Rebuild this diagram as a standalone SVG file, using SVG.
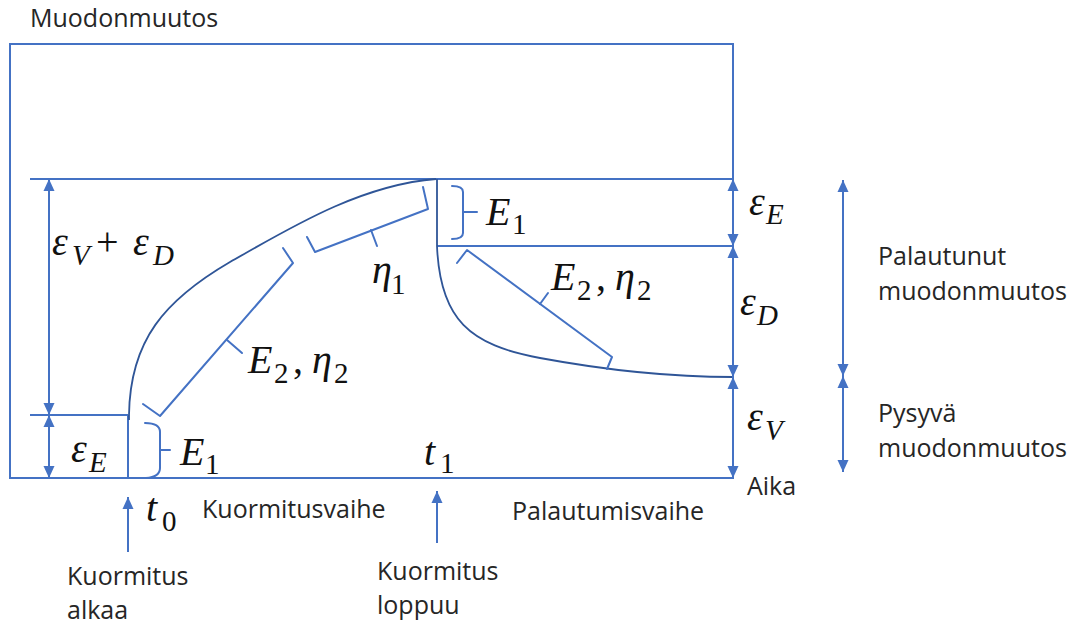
<svg xmlns="http://www.w3.org/2000/svg" width="1068" height="625" viewBox="0 0 1068 625">
<defs>
<style>
.ln{stroke:#4472C4;stroke-width:2;fill:none}
.cv{stroke:#2F5597;stroke-width:1.8;fill:none}
.br{stroke:#4472C4;stroke-width:2;fill:none;stroke-linejoin:round;stroke-linecap:round}
.dim{stroke:#4472C4;stroke-width:2;fill:none;marker-start:url(#ah);marker-end:url(#ah)}
.arr{stroke:#4472C4;stroke-width:2;fill:none;marker-end:url(#ah)}
.lbl{font-family:"Open Sans","Noto Sans",sans-serif;font-size:25px;fill:#262626}
.m{font-family:"Liberation Serif","DejaVu Serif",serif;font-style:italic;font-size:40px;fill:#111}
.s{font-size:29px}
.u{font-style:normal}
</style>
<marker id="ah" viewBox="0 0 12 12" refX="12" refY="6" markerWidth="12" markerHeight="12" markerUnits="userSpaceOnUse" orient="auto-start-reverse">
<path d="M0,0.5 L12,6 L0,11.5 z" fill="#4472C4"/>
</marker>
</defs>
<rect width="1068" height="625" fill="#fff"/>

<g id="frame">
<rect x="10" y="44" width="723" height="434" class="ln"/>
<line x1="30" y1="179" x2="733" y2="179" class="ln"/>
<line x1="437" y1="246" x2="733" y2="246" class="ln"/>
<line x1="30" y1="415" x2="128" y2="415" class="ln"/>
<line x1="128" y1="415" x2="128" y2="478" class="ln"/>
</g>

<g id="loading-curve">
<path class="cv" d="M129,420 L129,415 C130,340 165,300 230,262 C290,228 360,185 436,179"/>
</g>
<g id="recovery-curve">
<path class="cv" d="M437,179 L437,246 C440,320 470,345 540,358 S680,377 733,377"/>
</g>

<g id="brackets">
<path class="br" d="M145,423 Q160,423 160,432 L160,468 Q160,477 146,478"/>
<line class="br" x1="160" y1="450" x2="170" y2="450"/>
<path class="br" d="M452,186 Q463,186 463,192 L463,233 Q463,239 452,239"/>
<line class="br" x1="463" y1="212" x2="477" y2="212"/>
<path class="br" d="M307,237 L315,252 L428,209 L423,187"/>
<line class="br" x1="371" y1="230" x2="377" y2="246"/>
<path class="br" d="M143,404 L160,416 L293,263 L283,248"/>
<line class="br" x1="227" y1="340" x2="242" y2="353"/>
<path class="br" d="M457,263 L467,250 L612,357 L607,369"/>
<line class="br" x1="540" y1="304" x2="548" y2="293"/>
</g>

<g id="connectors">
<line class="dim" x1="49" y1="179" x2="49" y2="415"/>
<line class="dim" x1="49" y1="415" x2="49" y2="478"/>
<line class="dim" x1="733" y1="179" x2="733" y2="246"/>
<line class="dim" x1="733" y1="246" x2="733" y2="377"/>
<line class="dim" x1="733" y1="377" x2="733" y2="478"/>
<line class="dim" x1="843" y1="180" x2="843" y2="376"/>
<line class="dim" x1="843" y1="376" x2="843" y2="472"/>
<line class="arr" x1="128" y1="552" x2="128" y2="497"/>
<line class="arr" x1="437" y1="543" x2="437" y2="491"/>
</g>

<g id="math-labels">
<text class="m"><tspan x="52" y="255">ε</tspan><tspan class="s" x="72" y="265">V</tspan><tspan class="u" x="96" y="255">+</tspan><tspan x="133" y="255">ε</tspan><tspan class="s" x="153" y="265">D</tspan></text>
<text class="m"><tspan x="372" y="283">η</tspan><tspan class="s u" x="391" y="294">1</tspan></text>
<text class="m"><tspan x="486" y="225">E</tspan><tspan class="s u" x="512" y="234">1</tspan></text>
<text class="m"><tspan x="551" y="290">E</tspan><tspan class="s u" x="577" y="300">2</tspan><tspan class="u" x="596" y="290">,</tspan><tspan x="615" y="290">η</tspan><tspan class="s u" x="637" y="300">2</tspan></text>
<text class="m"><tspan x="248" y="373">E</tspan><tspan class="s u" x="274" y="383">2</tspan><tspan class="u" x="293" y="373">,</tspan><tspan x="312" y="373">η</tspan><tspan class="s u" x="334" y="383">2</tspan></text>
<text class="m"><tspan x="180" y="465">E</tspan><tspan class="s u" x="205" y="474">1</tspan></text>
<text class="m"><tspan x="71" y="462">ε</tspan><tspan class="s" x="89" y="472">E</tspan></text>
<text class="m"><tspan x="424" y="465">t</tspan><tspan class="s u" x="440" y="473">1</tspan></text>
<text class="m"><tspan x="146" y="521">t</tspan><tspan class="s u" x="162" y="531">0</tspan></text>
<text class="m"><tspan x="749" y="215">ε</tspan><tspan class="s" x="766" y="224">E</tspan></text>
<text class="m"><tspan x="740" y="315">ε</tspan><tspan class="s" x="757" y="325">D</tspan></text>
<text class="m"><tspan x="747" y="430">ε</tspan><tspan class="s" x="765" y="440">V</tspan></text>
</g>

<g id="text-labels">
<text class="lbl" x="30" y="27">Muodonmuutos</text>
<text class="lbl" x="747" y="495">Aika</text>
<text class="lbl" x="202" y="518">Kuormitusvaihe</text>
<text class="lbl" x="512" y="520">Palautumisvaihe</text>
<text class="lbl" x="67" y="585">Kuormitus</text>
<text class="lbl" x="67" y="619">alkaa</text>
<text class="lbl" x="377" y="580">Kuormitus</text>
<text class="lbl" x="377" y="614">loppuu</text>
<text class="lbl" x="878" y="265">Palautunut</text>
<text class="lbl" x="878" y="300">muodonmuutos</text>
<text class="lbl" x="878" y="422">Pysyvä</text>
<text class="lbl" x="878" y="457">muodonmuutos</text>
</g>
</svg>
